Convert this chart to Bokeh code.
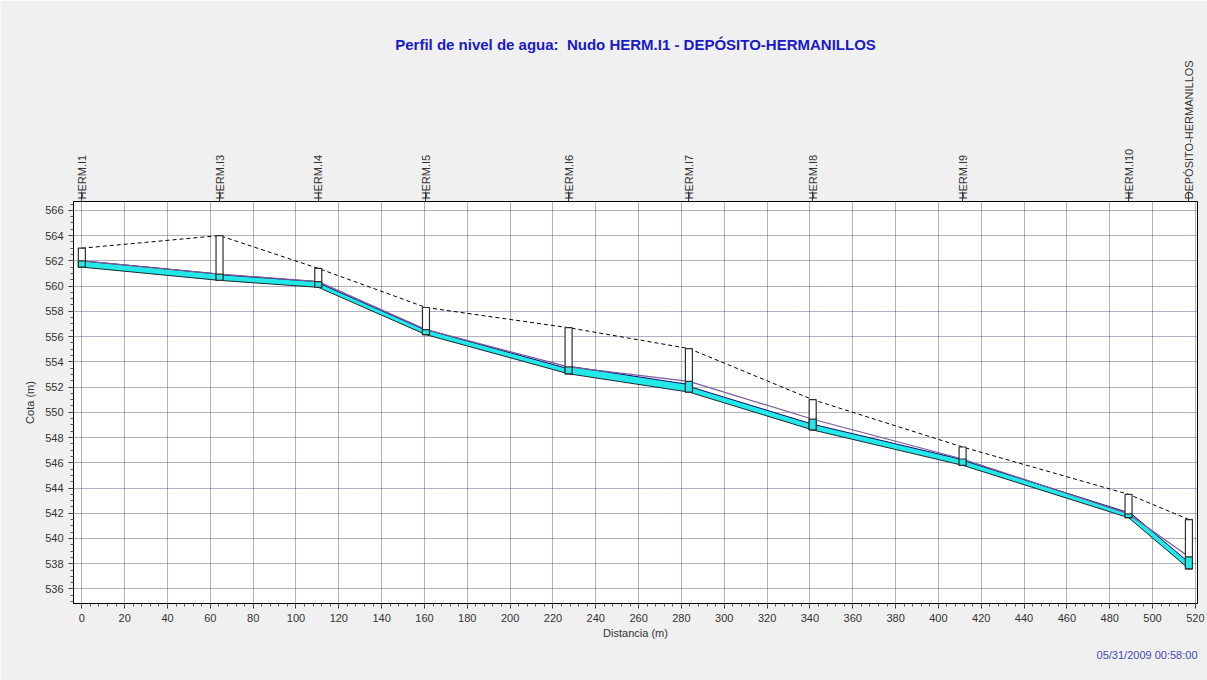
from bokeh.plotting import figure
from bokeh.models import (Range1d, LinearAxis, FixedTicker, SingleIntervalTicker,
                          Title, ColumnDataSource)
from bokeh.embed import file_html
from bokeh.resources import INLINE

# Nodes along the profile
node_names = ["HERM.I1", "HERM.I3", "HERM.I4", "HERM.I5", "HERM.I6",
              "HERM.I7", "HERM.I8", "HERM.I9", "HERM.I10", "DEPÓSITO-HERMANILLOS"]
node_dist = [0.0, 64.3, 110.4, 160.7, 227.3, 283.5, 341.3, 411.3, 488.8, 517.0]
ground_elev = [563.0, 564.0, 561.4, 558.3, 556.7, 555.05, 551.0, 547.25, 543.5, 541.5]
invert_elev = [561.5, 560.45, 559.9, 556.15, 553.05, 551.6, 548.6, 545.8, 541.65, 537.6]
water_level = [562.0, 560.95, 560.35, 556.55, 553.6, 552.45, 549.45, 546.3, 541.95, 538.55]
# Pipe diameter of each reach (between consecutive nodes)
pipe_diam = [0.5, 0.45, 0.35, 0.4, 0.6, 0.45, 0.45, 0.4, 0.5]

FONT = "Liberation Sans"

p = figure(width=1207, height=680, output_backend="svg", toolbar_location=None,
           x_range=Range1d(-3.9, 521.0), y_range=Range1d(534.85, 566.7),
           min_border_left=73, min_border_right=10, min_border_top=201,
           min_border_bottom=77)
p.border_fill_color = "#f0f0f0"
p.background_fill_color = "white"
p.outline_line_color = "black"
p.outline_line_width = 1

# Title
p.title.text = "Perfil de nivel de agua:\u00a0 Nudo HERM.I1 - DEPÓSITO-HERMANILLOS"
p.title.align = "center"
p.title.text_color = "#1a1ac8"
p.title.text_font = FONT
p.title.text_font_size = "15px"
p.title.text_font_style = "bold"

# Axes
p.xaxis.ticker = SingleIntervalTicker(interval=20, num_minor_ticks=5)
p.yaxis.ticker = SingleIntervalTicker(interval=2, num_minor_ticks=4)
for ax in (p.xaxis[0], p.yaxis[0]):
    ax.axis_line_color = "black"
    ax.major_tick_line_color = "#333333"
    ax.minor_tick_line_color = "#555555"
    ax.major_tick_in = 0
    ax.major_tick_out = 5
    ax.minor_tick_in = 0
    ax.minor_tick_out = 3
    ax.major_label_text_font = FONT
    ax.major_label_text_font_size = "11px"
    ax.major_label_text_color = "#333333"
    ax.axis_label_text_font = FONT
    ax.axis_label_text_font_size = "11px"
    ax.axis_label_text_font_style = "normal"
    ax.axis_label_text_color = "#333333"
p.xaxis.axis_label = "Distancia (m)"
p.xaxis.axis_label_standoff = 2
p.yaxis.axis_label = "Cota (m)"
p.yaxis.axis_label_standoff = 6

# Grid
p.grid.grid_line_color = "#3c3c6e"
p.grid.grid_line_dash = "1 1"
p.grid.grid_line_alpha = 0.8

# Node names along the top edge
top_axis = LinearAxis(ticker=FixedTicker(ticks=node_dist),
                      major_label_overrides={d: n for d, n in zip(node_dist, node_names)},
                      major_label_orientation="vertical")
top_axis.axis_line_color = None
top_axis.major_tick_in = 0
top_axis.major_tick_out = 10
top_axis.major_tick_line_color = "#333333"
top_axis.minor_tick_line_color = None
top_axis.major_label_standoff = -8
top_axis.major_label_text_font = FONT
top_axis.major_label_text_font_size = "11px"
top_axis.major_label_text_color = "#333333"
p.add_layout(top_axis, "above")

# Time stamp under the chart
p.add_layout(Title(text="05/31/2009 00:58:00", align="right", text_color="#4848b0",
                   text_font=FONT, text_font_size="11px", text_font_style="normal"),
             "below")

# Ground surface
p.line(node_dist, ground_elev, line_color="black", line_width=1, line_dash="4 3")

# Pipes: filled band from invert to crown for each reach
xs, ys, crown_x, crown_y = [], [], [], []
for i, d in enumerate(pipe_diam):
    x0, x1 = node_dist[i], node_dist[i + 1]
    y0, y1 = invert_elev[i], invert_elev[i + 1]
    xs.append([x0, x1, x1, x0])
    ys.append([y0, y1, y1 + d, y0 + d])
    crown_x.append([x0, x1])
    crown_y.append([y0 + d, y1 + d])
p.patches(xs, ys, fill_color="#22e8e8", line_color=None)
p.multi_line(crown_x, crown_y, line_color="#101070", line_width=1)
p.line(node_dist, invert_elev, line_color="#1a2a30", line_width=1)

# Hydraulic grade line
p.line(node_dist, water_level, line_color="#7a5a9a", line_width=1.2)

# Manholes / nodes: box from invert to ground, water filled at the bottom
box_src = ColumnDataSource(dict(
    x=node_dist,
    ymid=[(g + v) / 2 for g, v in zip(ground_elev, invert_elev)],
    h=[g - v for g, v in zip(ground_elev, invert_elev)],
    wmid=[(w + v) / 2 for w, v in zip(water_level, invert_elev)],
    wh=[w - v for w, v in zip(water_level, invert_elev)],
))
p.rect(x="x", y="ymid", width=7, width_units="screen", height="h", source=box_src,
       fill_color="white", line_color="#303030", line_width=1.2)
p.rect(x="x", y="wmid", width=7, width_units="screen", height="wh", source=box_src,
       fill_color="#22e8e8", line_color="#303030", line_width=1.2)

open("out.html", "w").write(file_html(p, INLINE))
